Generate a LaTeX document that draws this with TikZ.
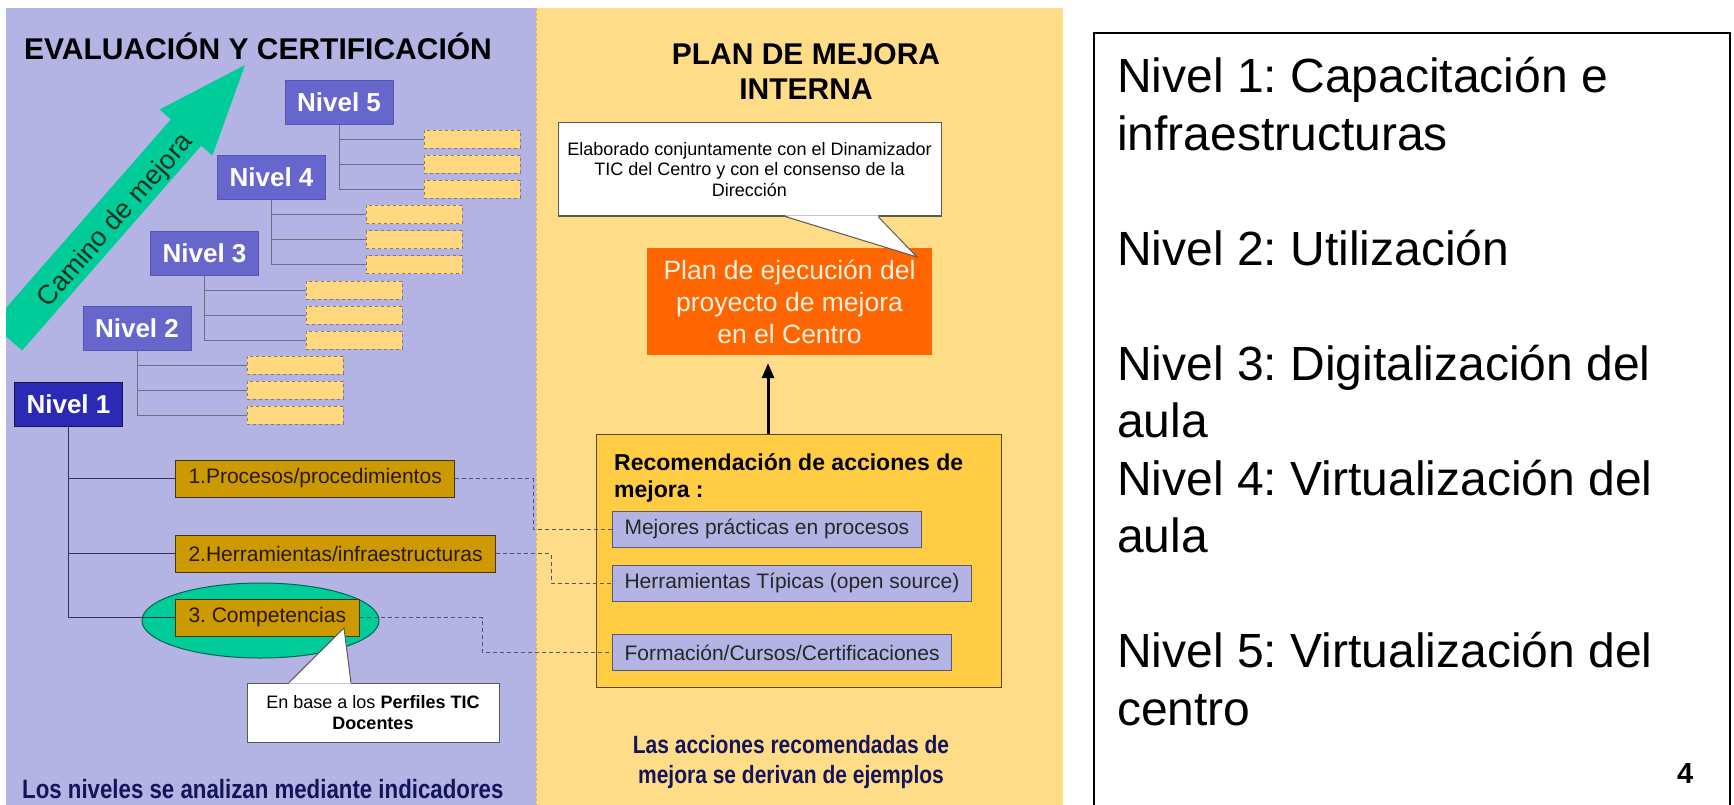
\documentclass[tikz,border=0pt]{standalone}
\usepackage{fontspec}
\setmainfont{Liberation Sans}
\newfontfamily\estrecha[FakeStretch=0.84]{Liberation Sans}
\usepackage{xcolor}
\usetikzlibrary{shapes.geometric,arrows.meta,calc}
\frenchspacing
\definecolor{lavanda}{RGB}{180,180,228}
\definecolor{amarillo}{RGB}{255,221,136}
\definecolor{divisor}{RGB}{222,180,80}
\definecolor{verde}{RGB}{0,204,153}
\definecolor{verdeborde}{RGB}{0,100,80}
\definecolor{caminotexto}{RGB}{16,48,32}
\definecolor{nivelfill}{RGB}{102,102,204}
\definecolor{nivelborde}{RGB}{85,85,175}
\definecolor{niveluno}{RGB}{42,42,180}
\definecolor{nivelunoborde}{RGB}{20,20,70}
\definecolor{huecofill}{RGB}{255,216,128}
\definecolor{huecoborde}{RGB}{140,120,90}
\definecolor{marron}{RGB}{204,153,0}
\definecolor{marronborde}{RGB}{70,50,20}
\definecolor{marrontexto}{RGB}{40,25,0}
\definecolor{naranja}{RGB}{255,102,0}
\definecolor{naranjatexto}{RGB}{255,240,225}
\definecolor{recfill}{RGB}{255,204,68}
\definecolor{recborde}{RGB}{90,70,30}
\definecolor{accionborde}{RGB}{90,90,110}
\definecolor{globoborde}{RGB}{90,90,90}
\definecolor{rama}{RGB}{110,110,130}
\definecolor{tronco}{RGB}{50,50,80}
\definecolor{enlace}{RGB}{85,85,105}
\definecolor{azulnoche}{RGB}{20,20,90}
\newcommand{\tam}[2]{\fontsize{#1}{#2}\selectfont}
\tikzset{
    nivel-box/.style = {draw=nivelborde, fill=nivelfill, text=white, line width=1pt, font=\bfseries\tam{26}{30}, minimum width=108pt, minimum height=44pt, inner sep=0pt},
    nivel-uno/.style = {nivel-box, fill=niveluno, draw=nivelunoborde},
    hueco-box/.style = {draw=huecoborde, dashed, fill=huecofill, minimum width=96pt, minimum height=18pt, inner sep=0pt, anchor=west},
    area-box/.style = {draw=marronborde, fill=marron, text=marrontexto, line width=1pt, font=\tam{21}{24}, minimum height=37pt, inner xsep=13pt, inner ysep=0pt, anchor=west},
    accion-box/.style = {draw=accionborde, fill=lavanda, text=black!85, line width=1pt, font=\tam{21}{24}, minimum height=36pt, inner xsep=12pt, inner ysep=0pt, anchor=west},
    globo-box/.style = {draw=globoborde, fill=white, line width=1pt, align=center, inner sep=0pt},
    rama-line/.style = {draw=rama, line width=0.8pt},
    tronco-line/.style = {draw=tronco, line width=1.3pt},
    enlace-line/.style = {draw=enlace, line width=0.8pt, dash pattern=on 4pt off 3pt},
}

\begin{document}
\begin{tikzpicture}[x=1pt, y=-1pt]
\useasboundingbox (0,0) rectangle (1734,805);

\fill[lavanda] (6,8) rectangle (536,805);
\fill[amarillo] (536,8) rectangle (1063,805);
\draw[divisor, line width=1pt, dash pattern=on 3pt off 2pt] (536,8) -- (536,805);

% camino de mejora
\begin{scope}
\clip (6,8) rectangle (536,805);
\fill[verde] (245,65) -- (212.4,155.5) -- (201.1,145.7) -- (22.1,350.5) -- (-8.1,324.1) -- (170.9,119.3) -- (159.6,109.5) -- cycle;
\end{scope}
\node[rotate=48.8, text=caminotexto, font=\tam{27}{30}] (camino) at (116,221) {Camino de mejora};

\node[font=\bfseries\tam{30}{35}, anchor=base, inner sep=0pt] (evaltit) at (258,60) {EVALUACIÓN Y CERTIFICACIÓN};
\node[font=\bfseries\tam{30}{35}, align=center, anchor=north, inner sep=0pt] (plantit) at (806,43) {PLAN DE MEJORA\\INTERNA};

% niveles
\node[nivel-uno] (n1) at (68.5,404) {Nivel 1};
\foreach \k/\x/\y/\hx in {2/137/328/247, 3/204.5/253/306, 4/271.5/177.5/366, 5/339/102.5/424}{
    \node[nivel-box] (n\k) at (\x,\y) {Nivel \k};
    \foreach \j in {1,2,3}{
        \node[hueco-box] (h\k\j) at (\hx,{\y+12+25*\j}) {};
        \draw[rama-line] (n\k.south) |- (h\k\j.west);
    }
}

\node[ellipse, draw=verdeborde, fill=verde, line width=1pt, minimum width=237pt, minimum height=75pt] (ovalo) at (260.5,620.5) {};
\node[area-box] (proc) at (175,478.5) {1.Procesos/procedimientos};
\node[area-box] (herr) at (175,553.5) {2.Herramientas/infraestructuras};
\node[area-box] (comp) at (175,617.5) {3. Competencias};
\draw[tronco-line] (n1.south) |- (proc.west);
\draw[tronco-line] (n1.south) |- (herr.west);
\draw[tronco-line] (n1.south) |- (comp.west);

\node[globo-box, minimum width=252pt, minimum height=59pt, font=\tam{18}{21}] (perfil) at (373,712.5) {En base a los \textbf{Perfiles TIC}\\\textbf{Docentes}};
\coordinate (perfilpunta) at (344,628);
\fill[white] ($(perfil.north)+(-84,1)$) -- (perfilpunta) -- ($(perfil.north)+(-22,1)$) -- cycle;
\draw[globoborde, line width=1pt] ($(perfil.north)+(-84,0)$) -- (perfilpunta) -- ($(perfil.north)+(-22,0)$);

\node[font=\estrecha\bfseries\tam{26.5}{30}, text=azulnoche, anchor=base west, inner sep=0pt] (pie1) at (22,798) {Los niveles se analizan mediante indicadores};

% plan de mejora
\node[fill=naranja, text=naranjatexto, font=\tam{26.5}{32}, align=center, minimum width=285pt, minimum height=107pt, inner sep=0pt] (plan) at (789.5,301.5) {Plan de ejecución del\\proyecto de mejora\\en el Centro};
\node[globo-box, minimum width=383pt, minimum height=93pt, font=\tam{18}{20.5}] (elab) at (749.5,169.5) {Elaborado conjuntamente con el Dinamizador\\TIC del Centro y con el consenso de la\\Dirección};
\coordinate (elabpunta) at (917,257);
\fill[white] ($(elab.south)+(35.5,-1)$) -- (elabpunta) -- ($(elab.south)+(128.5,-1)$) -- cycle;
\draw[globoborde, line width=1pt] ($(elab.south)+(35.5,0)$) -- (elabpunta) -- ($(elab.south)+(128.5,0)$);

\node[draw=recborde, fill=recfill, line width=1pt, minimum width=405pt, minimum height=253pt, inner sep=0pt] (rec) at (798.5,560.5) {};
\node[font=\bfseries\tam{23}{27}, align=left, anchor=north west, inner sep=0pt] (rectit) at (614,453) {Recomendación de acciones de\\mejora :};
\node[accion-box] (mejores) at (612,529) {Mejores prácticas en procesos};
\node[accion-box] (herrtip) at (612,583) {Herramientas Típicas (open source)};
\node[accion-box] (formacion) at (612,652.5) {Formación/Cursos/Certificaciones};
\draw[line width=3pt, -{Triangle[length=15pt,width=12pt]}] ($(rec.north)+(-30.5,0)$) -- ($(rec.north |- plan.south)+(-30.5,8)$);

\draw[enlace-line] (proc.east) -| ([xshift=-79pt]mejores.west) -- (mejores.west);
\draw[enlace-line] (herr.east) -| ([xshift=-61pt]herrtip.west) -- (herrtip.west);
\draw[enlace-line] (comp.east) -| ([xshift=-130pt]formacion.west) -- (formacion.west);

\node[font=\estrecha\bfseries\tam{25}{30}, text=azulnoche, align=center, anchor=north, inner sep=0pt] (pie2) at (791,735) {Las acciones recomendadas de\\mejora se derivan de ejemplos};

% niveles explicados
\draw[line width=1.5pt] (1094,806) -- (1094,33) -- (1730,33) -- (1730,806);
\node[font=\tam{48}{57.5}, align=left, anchor=north west, inner sep=0pt] (niveles) at (1117,57) {Nivel 1: Capacitación e\\infraestructuras\\[57.5pt]Nivel 2: Utilización\\[57.5pt]Nivel 3: Digitalización del\\aula\\Nivel 4: Virtualización del\\aula\\[57.5pt]Nivel 5: Virtualización del\\centro};
\node[font=\bfseries\tam{29}{34}, anchor=base west, inner sep=0pt] (pagina) at (1677,783) {4};
\end{tikzpicture}
\end{document}
